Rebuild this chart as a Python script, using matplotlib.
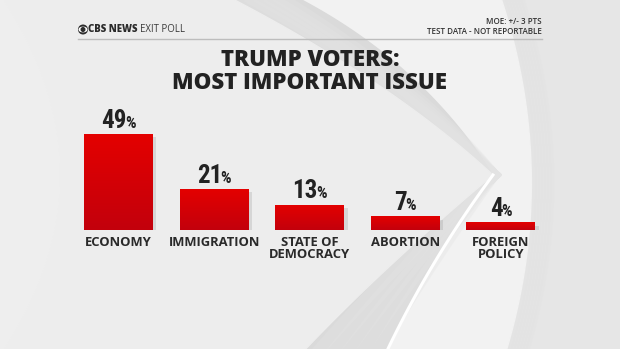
import numpy as np
import matplotlib
matplotlib.use("Agg")
import matplotlib.pyplot as plt
from matplotlib import font_manager
from matplotlib.patches import Polygon, Circle, Ellipse
from matplotlib import patheffects as pe

# exit poll numbers
issues = ["ECONOMY", "IMMIGRATION", "STATE OF\nDEMOCRACY", "ABORTION", "FOREIGN\nPOLICY"]
shares = [49, 21, 13, 7, 4]

title_lines = "TRUMP VOTERS:\nMOST IMPORTANT ISSUE"
moe_note = "MOE: +/- 3 PTS\nTEST DATA - NOT REPORTABLE"

# narrow face for the big percentages, whatever is installed
installed = {f.name for f in font_manager.fontManager.ttflist}
num_family = next(n for n in ["Roboto Condensed", "Open Sans Condensed",
                              "Liberation Sans Narrow", "DejaVu Sans"] if n in installed)
head_family = "Open Sans"

W, H = 620, 349
fig = plt.figure(figsize=(W / 100, H / 100), dpi=100)

# background layer in pixel coordinates
bg = fig.add_axes([0, 0, 1, 1], zorder=0)
bg.set_xlim(0, W)
bg.set_ylim(H, 0)
bg.axis("off")
bg.add_patch(Polygon([(0, 0), (W, 0), (W, H), (0, H)], color="#e6e6e6", zorder=0))


def bez(p0, p1, p2, n=60):
    t = np.linspace(0, 1, n)[:, None]
    p0, p1, p2 = map(np.array, (p0, p1, p2))
    return (1 - t) ** 2 * p0 + 2 * (1 - t) * t * p1 + t ** 2 * p2


# big circular swoosh on the right
arc = bez((500, -5), (560, 175), (505, 355))
bg.add_patch(Polygon(np.vstack([[(0, -5)], arc, [(0, 355)]]), color="#f2f2f2", zorder=1))
for k in range(1, 8):
    a = bez((500 + 3 * k, -5), (560 + 3 * k, 175), (505 + 3 * k, 355))
    bg.plot(a[:, 0], a[:, 1], color="#dcdcdc", lw=3, alpha=0.12, zorder=1)

# chevron: shaded band and lighter inner panel
tip = (493, 175)
outer_up = bez((292, -5), (420, 60), tip)
outer_dn = bez(tip, (430, 260), (385, 355))
inner_up = bez((225, -5), (390, 80), tip)
inner_dn = bez(tip, (380, 270), (300, 355))
bg.add_patch(Polygon(np.vstack([[(0, -5)], outer_up, outer_dn, [(0, 355)]]),
                     color="#dadada", zorder=2))
bg.add_patch(Polygon(np.vstack([[(0, -5)], inner_up, inner_dn, [(0, 355)]]),
                     color="#ededed", zorder=3))
for k in range(1, 6):
    u = bez((225 + 10 * k, -5), (390 + 5 * k, 80), tip)
    d = bez(tip, (380 + 9 * k, 270), (300 + 15 * k, 355))
    bg.plot(u[:, 0], u[:, 1], color="#e3e3e3", lw=9, alpha=0.35, zorder=2.5)
    bg.plot(d[:, 0], d[:, 1], color="#e3e3e3", lw=9, alpha=0.35, zorder=2.5)
bg.plot(outer_dn[:, 0], outer_dn[:, 1], color="white", lw=2.2, zorder=4)
bg.add_patch(Polygon(np.vstack([[(0, -5)], bez((0, -5), (120, 175), (0, 355))]),
                     color="#eeeeee", zorder=3))

# header
bg.plot([78, 542], [39, 39], color="#bdbdbd", lw=1, zorder=5)
bg.add_patch(Circle((83, 29.5), 4.3, color="#2b2b2b", zorder=5))
bg.add_patch(Ellipse((83, 29.5), 7.6, 4.4, color="white", zorder=6))
bg.add_patch(Circle((83, 29.5), 1.8, color="#2b2b2b", zorder=7))
brand = bg.text(88, 29.5, "CBS NEWS", fontsize=6.9, fontweight="extra bold", family=head_family,
                color="#2b2b2b", va="center", ha="left", zorder=6)
poll = bg.text(140, 29.5, "EXIT POLL", fontsize=6.9, fontweight="normal", family=head_family,
               color="#3a3a3a", va="center", ha="left", zorder=6)
bg.text(542, 26.5, moe_note, fontsize=5.8, family=head_family, fontweight="semibold",
        color="#333333", ha="right", va="center", linespacing=1.0, zorder=6)

bg.text(310, 71.5, title_lines, fontsize=16, family=head_family, fontweight="extra bold",
        color="#222222", ha="center", va="center", linespacing=0.9, zorder=6)

# bars
step = 95.6
left_px = 118.5 - 0.5 * step
ax = fig.add_axes([left_px / W, 119 / H, 5 * step / W, 60 * 1.96 / H], zorder=1)
ax.patch.set_alpha(0)
ax.axis("off")
x = np.arange(len(shares))
bars = ax.bar(x, shares, width=0.72, color="#d60000", zorder=2,
              path_effects=[pe.SimplePatchShadow(offset=(2.5, -2.5), shadow_rgbFace="#888888", alpha=0.22),
                            pe.Normal()])
grad = np.linspace(0, 1, 100)[:, None]
cmap = matplotlib.colors.LinearSegmentedColormap.from_list("bar", ["#e40000", "#c3000c"])
for b in bars:
    im = ax.imshow(grad, cmap=cmap, aspect="auto", zorder=3,
                   extent=[b.get_x(), b.get_x() + b.get_width(), 0, b.get_height()])
    im.set_clip_path(b)
ax.set_xlim(-0.5, 4.5)
ax.set_ylim(0, 60)

labels = []
for i, v in enumerate(shares):
    tn = ax.annotate(str(v), (i, v), xytext=(0, 4.5), textcoords="offset points",
                     fontsize=18, fontweight="bold", family=num_family, fontstretch="condensed",
                     color="#222222", ha="left", va="baseline", zorder=5)
    tp = ax.annotate("%", (i, v), xytext=(0, 4.5), textcoords="offset points",
                     fontsize=12, fontweight="bold", family=num_family, fontstretch="condensed",
                     color="#222222", ha="left", va="baseline", zorder=5)
    labels.append((tn, tp))
    ax.annotate(issues[i], (i, 0), xytext=(0, -4.5), textcoords="offset points",
                fontsize=9.4, fontweight="bold", family=head_family, color="#2a2a2a",
                ha="center", va="top", linespacing=0.92, zorder=5)

# center each "NN%" pair over its bar, put EXIT POLL right after the brand
fig.canvas.draw()
r = fig.canvas.get_renderer()
for tn, tp in labels:
    w1 = tn.get_window_extent(r).width
    w2 = tp.get_window_extent(r).width - 1.5
    start = -(w1 + w2) / 2
    tn.xyann = (start * 0.72, 4.5)
    tp.xyann = ((start + w1 - 1.5) * 0.72, 4.5)
poll.set_x(brand.get_window_extent(r).x1 + 2.5)

fig.savefig("out.png", dpi=100)
